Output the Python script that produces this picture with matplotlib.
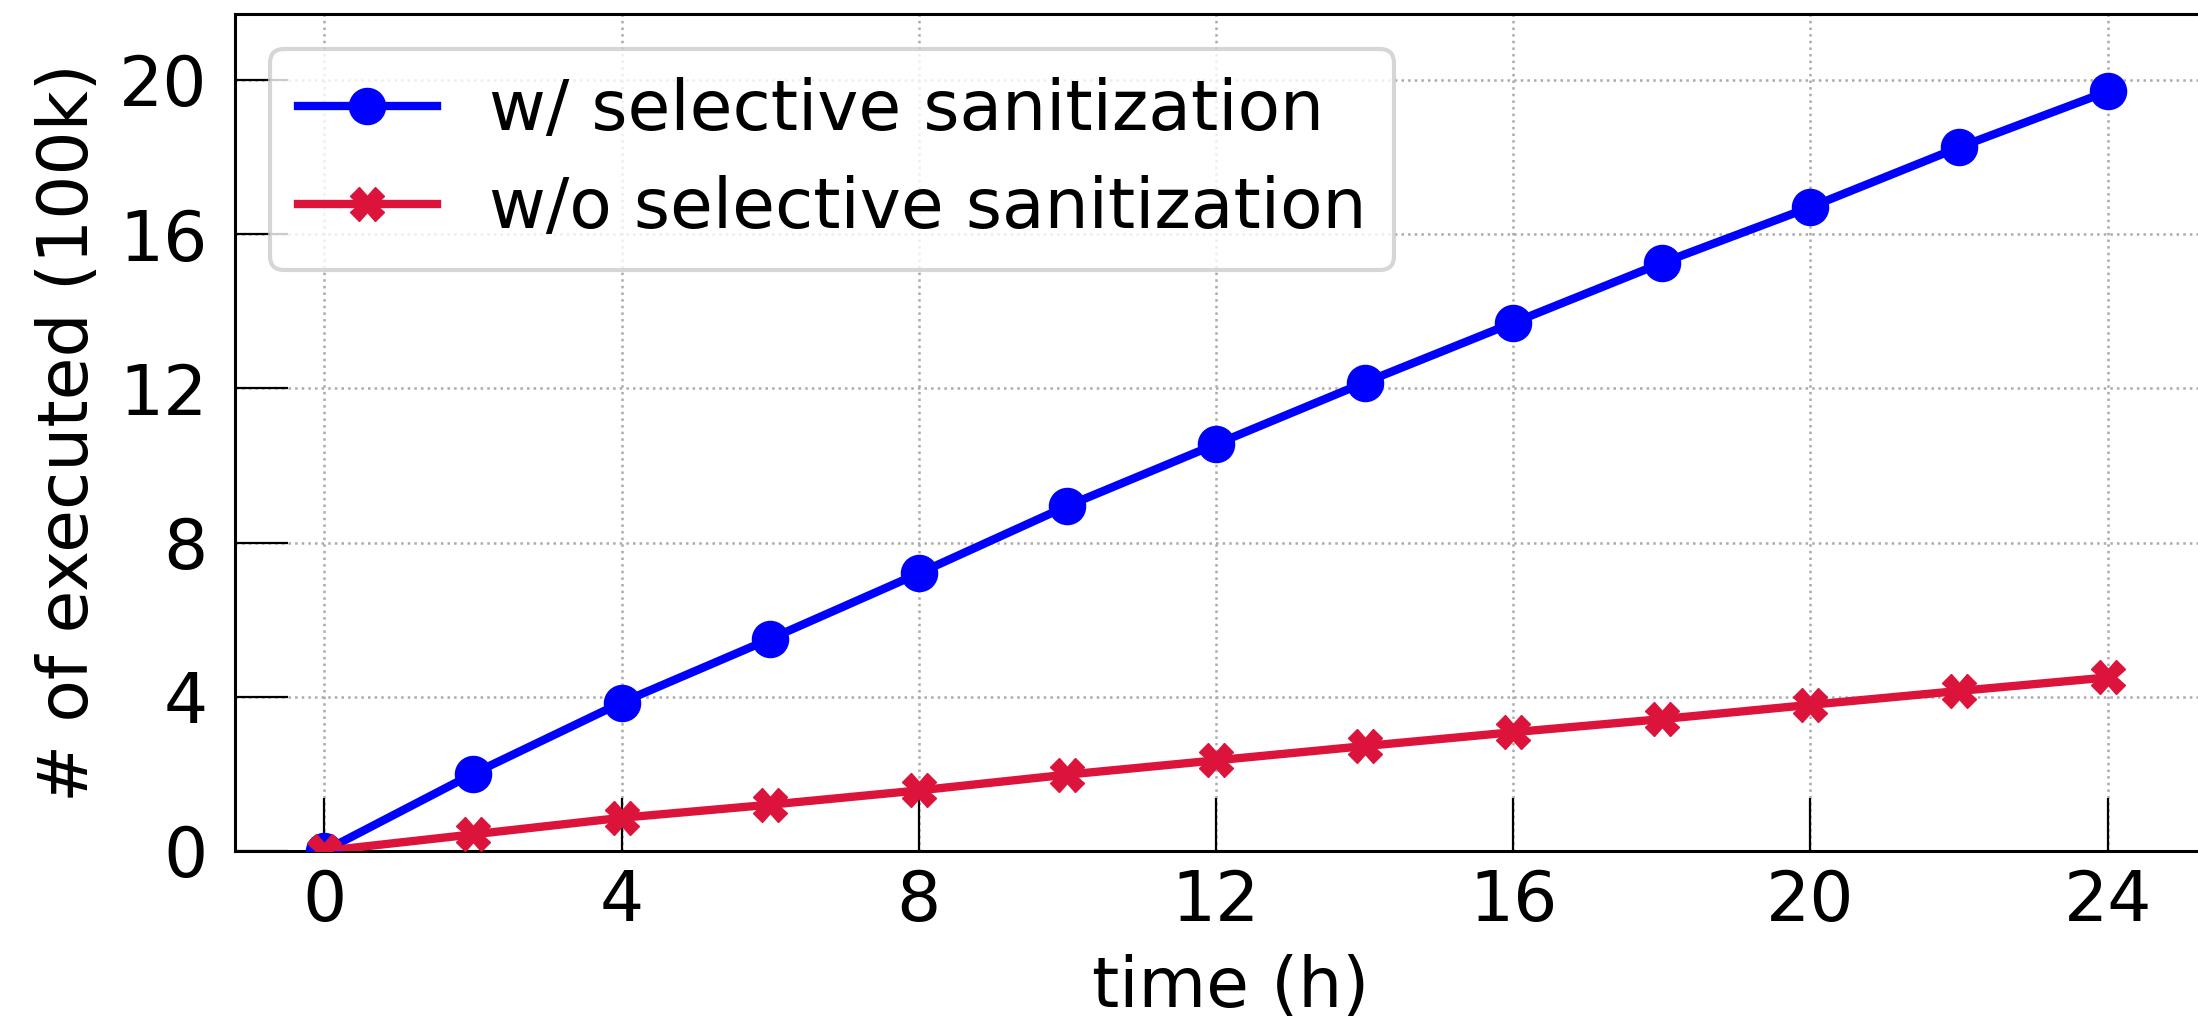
import matplotlib
matplotlib.use("Agg")
import matplotlib.pyplot as plt

hours = [0, 2, 4, 6, 8, 10, 12, 14, 16, 18, 20, 22, 24]
with_sel = [0.0, 2.0, 3.85, 5.5, 7.2, 8.95, 10.55, 12.15, 13.7, 15.25, 16.7, 18.25, 19.7]
without_sel = [0.0, 0.43, 0.86, 1.2, 1.57, 1.98, 2.35, 2.72, 3.08, 3.42, 3.79, 4.15, 4.5]
xticks = [0, 4, 8, 12, 16, 20, 24]
yticks = [0, 4, 8, 12, 16, 20]

FS = 50
plt.rcParams.update({
    "font.family": "DejaVu Sans",
    "font.size": FS,
})

fig = plt.figure(figsize=(21.98, 10.24), dpi=100)
ax = fig.add_axes([0.107, 0.169, 0.906, 0.817])

ax.plot(hours, with_sel, color="#0000FF", lw=6, marker="o", ms=26,
        label="w/ selective sanitization", zorder=3)
ax.plot(hours, without_sel, color="#DC143C", lw=6, marker="X", ms=24,
        label="w/o selective sanitization", zorder=3)

ax.set_xlim(-1.2, 25.6)
ax.set_ylim(0, 21.7)
ax.set_xticks(xticks)
ax.set_yticks(yticks)
ax.tick_params(direction="in", length=38, width=1.6, labelsize=FS)
ax.tick_params(axis="x", pad=12)
ax.tick_params(axis="y", pad=20)
ax.grid(True, ls=":", color="#AAAAAA", lw=1.8)
for sp in ax.spines.values():
    sp.set_linewidth(2.2)

ax.set_xlabel("time (h)", fontsize=FS, labelpad=14)
ax.set_ylabel("# of executed (100k)", fontsize=FS, labelpad=12)

leg = ax.legend(loc="upper left", fontsize=FS, borderaxespad=0.5,
                handlelength=2.0, handletextpad=0.75, labelspacing=0.45,
                fancybox=True, framealpha=0.8, edgecolor="#CCCCCC")
leg.get_frame().set_linewidth(3)

fig.savefig("out.png", dpi=100)
